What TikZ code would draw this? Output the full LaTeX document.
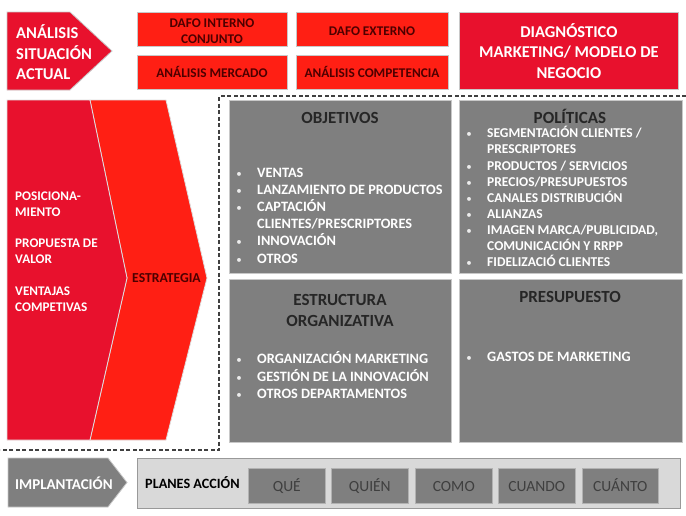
\documentclass[tikz,border=0pt]{standalone}
\usepackage{fontspec}
\setmainfont{Carlito}
\definecolor{crim}{HTML}{E8112D}
\definecolor{ored}{HTML}{FF1F14}
\definecolor{maroonT}{HTML}{4D0000}
\definecolor{gbox}{HTML}{7F7F7F}
\definecolor{gline}{HTML}{C8C8C8}
\definecolor{dtext}{HTML}{262626}
\definecolor{lgray}{HTML}{D9D9D9}
\definecolor{btext}{HTML}{3F3F3F}
\begin{document}
\begin{tikzpicture}[x=1pt,y=-1pt,
  redbox/.style={draw=gline, line width=0.8pt, fill=ored, inner sep=0pt, anchor=north west},
  redtxt/.style={text=maroonT, font=\bfseries\fontsize{13.3}{16}\selectfont, inner sep=0pt, anchor=base},
  crimbox/.style={draw=gline, line width=0.8pt, fill=crim, inner sep=0pt, anchor=north west, align=center, text=white, font=\bfseries\fontsize{16.5}{20.5}\selectfont},
  graybox/.style={draw=gline, line width=0.8pt, fill=gbox, inner sep=0pt, anchor=north west},
  gtitle/.style={text=dtext, font=\bfseries\fontsize{17}{21}\selectfont, inner sep=0pt, align=center},
  bl/.style={text=white, font=\bfseries\fontsize{14.3}{16}\selectfont, inner sep=0pt, anchor=base west},
  bls/.style={text=white, font=\bfseries\fontsize{13.5}{16}\selectfont, inner sep=0pt, anchor=base west},
  bu/.style={text=white!85!gray, font=\fontsize{11}{12}\selectfont, inner sep=0pt, anchor=base},
  wl/.style={text=white, font=\bfseries\fontsize{13.2}{14}\selectfont, inner sep=0pt, anchor=base west},
  smallbox/.style={draw=gline!70!gray, line width=0.6pt, fill=gbox, inner sep=0pt, anchor=north west, minimum width=77pt, minimum height=35pt, text height=10.5pt, text depth=0pt, text=btext, font=\fontsize{15.5}{16}\selectfont},
  dashline/.style={draw=black!75, line width=1.1pt, dash pattern=on 4pt off 2.5pt}
]
\useasboundingbox (0,0) rectangle (686,515);

% ---------- top row ----------
\draw[draw=gline, line width=0.8pt, fill=crim] (7,12) -- (70,12) -- (112,51) -- (70,90) -- (7,90) -- cycle;
\node[text=white, font=\bfseries\fontsize{16.5}{20.5}\selectfont, align=left, inner sep=0pt, anchor=west] (asa) at (16,52.5) {ANÁLISIS\\SITUACIÓN\\ACTUAL};

\node[redbox, minimum width=150pt, minimum height=34pt] (dafoi) at (137,12) {};
\node[redbox, minimum width=152pt, minimum height=34pt] (dafoe) at (296,12) {};
\node[redbox, minimum width=150pt, minimum height=34pt] (amerc) at (137,55) {};
\node[redbox, minimum width=152pt, minimum height=34pt] (acomp) at (296,55) {};
\node[redtxt] (t1) at (212,27.5) {DAFO INTERNO};
\node[redtxt] (t2) at (212,43.5) {CONJUNTO};
\node[redtxt] (t3) at (372,35) {DAFO EXTERNO};
\node[redtxt] (t4) at (212,77) {ANÁLISIS MERCADO};
\node[redtxt] (t5) at (372,77) {ANÁLISIS COMPETENCIA};
\node[crimbox, minimum width=219pt, minimum height=77pt] (diag) at (459,12) {DIAGNÓSTICO\\MARKETING/ MODELO DE\\NEGOCIO};

% ---------- dashed frame ----------
\coordinate (d1) at (686,96);
\coordinate (d2) at (219,96);
\coordinate (d3) at (219,450);
\coordinate (d4) at (0,450);
\draw[dashline] (d1) -- (d2) -- (d3) -- (d4);

% ---------- strategy chevrons ----------
\draw[draw=gline!60!white, line width=0.8pt, fill=ored] (90,100) -- (166,100) -- (207,278) -- (166,440) -- (90,440) -- (127,278) -- cycle;
\draw[draw=gline!60!white, line width=0.8pt, fill=crim] (7,100) -- (90,100) -- (127,278) -- (90,440) -- (7,440) -- cycle;

\node[wl] (p1) at (15,200.5) {POSICIONA-};
\node[wl] (p2) at (15,216.5) {MIENTO};
\node[wl] (p3) at (15,247.5) {PROPUESTA DE};
\node[wl] (p4) at (15,263.5) {VALOR};
\node[wl] (p5) at (15,295.5) {VENTAJAS};
\node[wl] (p6) at (15,311.5) {COMPETIVAS};
\node[text=maroonT, font=\bfseries\fontsize{13.7}{14}\selectfont, inner sep=0pt, anchor=base west] (estr) at (132,282.5) {ESTRATEGIA};

% ---------- gray boxes ----------
\node[graybox, minimum width=222pt, minimum height=173pt] (obj) at (229,100) {};
\node[graybox, minimum width=223pt, minimum height=173pt] (pol) at (459,100) {};
\node[graybox, minimum width=222pt, minimum height=163pt] (est) at (229,279) {};
\node[graybox, minimum width=223pt, minimum height=163pt] (pre) at (459,279) {};

\node[gtitle] (objt) at (340,118) {OBJETIVOS};
\node[gtitle] (polt) at (570,116) {POLÍTICAS};
\node[gtitle] (estt) at (340,310) {ESTRUCTURA\\ORGANIZATIVA};
\node[gtitle] (pret) at (570,297) {PRESUPUESTO};

% objetivos list
\node[bu] (ob1) at (239,177.5) {•};  \node[bl] (o1) at (257,177.5) {VENTAS};
\node[bu] (ob2) at (239,194.5) {•};  \node[bl] (o2) at (257,194.5) {LANZAMIENTO DE PRODUCTOS};
\node[bu] (ob3) at (239,211.5) {•};  \node[bl] (o3) at (257,211.5) {CAPTACIÓN};
                                       \node[bl] (o3b) at (257,228.5) {CLIENTES/PRESCRIPTORES};
\node[bu] (ob4) at (239,245.5) {•};  \node[bl] (o4) at (257,245.5) {INNOVACIÓN};
\node[bu] (ob5) at (239,263) {•};    \node[bl] (o5) at (257,263) {OTROS};

% politicas list
\node[bu] (pb1) at (469,137.5) {•};  \node[bls] (q1) at (487,137.5) {SEGMENTACIÓN CLIENTES /};
                                       \node[bls] (q1b) at (487,153.5) {PRESCRIPTORES};
\node[bu] (pb2) at (469,170) {•};    \node[bls] (q2) at (487,170) {PRODUCTOS / SERVICIOS};
\node[bu] (pb3) at (469,186) {•};    \node[bls] (q3) at (487,186) {PRECIOS/PRESUPUESTOS};
\node[bu] (pb4) at (469,202) {•};    \node[bls] (q4) at (487,202) {CANALES DISTRIBUCIÓN};
\node[bu] (pb5) at (469,218) {•};    \node[bls] (q5) at (487,218) {ALIANZAS};
\node[bu] (pb6) at (469,234.5) {•};  \node[bls] (q6) at (487,234.5) {IMAGEN MARCA/PUBLICIDAD,};
                                       \node[bls] (q6b) at (487,250.5) {COMUNICACIÓN Y RRPP};
\node[bu] (pb7) at (469,266.5) {•};  \node[bls] (q7) at (487,266.5) {FIDELIZACIÓ CLIENTES};

% estructura list
\node[bu] (eb1) at (239,363.5) {•};  \node[bl] (e1) at (257,363.5) {ORGANIZACIÓN MARKETING};
\node[bu] (eb2) at (239,381) {•};    \node[bl] (e2) at (257,381) {GESTIÓN DE LA INNOVACIÓN};
\node[bu] (eb3) at (239,398.5) {•};  \node[bl] (e3) at (257,398.5) {OTROS DEPARTAMENTOS};

% presupuesto list
\node[bu] (rb1) at (469,361.5) {•};  \node[bl] (r1) at (487,361.5) {GASTOS DE MARKETING};

% ---------- bottom row ----------
\draw[draw=gline, line width=0.8pt, fill=gbox] (8,458) -- (108,458) -- (127,482.5) -- (108,507) -- (8,507) -- cycle;
\node[text=white, font=\bfseries\fontsize{15}{16}\selectfont, inner sep=0pt, anchor=west] (impl) at (15,483) {IMPLANTACIÓN};

\node[draw=black!40, line width=1pt, fill=lgray, inner sep=0pt, anchor=north west, minimum width=543pt, minimum height=50pt] (plan) at (137,458) {};
\node[text=black, font=\bfseries\fontsize{14.2}{16}\selectfont, inner sep=0pt, anchor=west] (plt) at (145,483) {PLANES ACCIÓN};

\node[smallbox] (que) at (248,468) {QUÉ};
\node[smallbox] (quien) at (331,468) {QUIÉN};
\node[smallbox] (como) at (415,468) {COMO};
\node[smallbox] (cuando) at (498,468) {CUANDO};
\node[smallbox, minimum width=76pt] (cuanto) at (582,468) {CUÁNTO};
\end{tikzpicture}
\end{document}
